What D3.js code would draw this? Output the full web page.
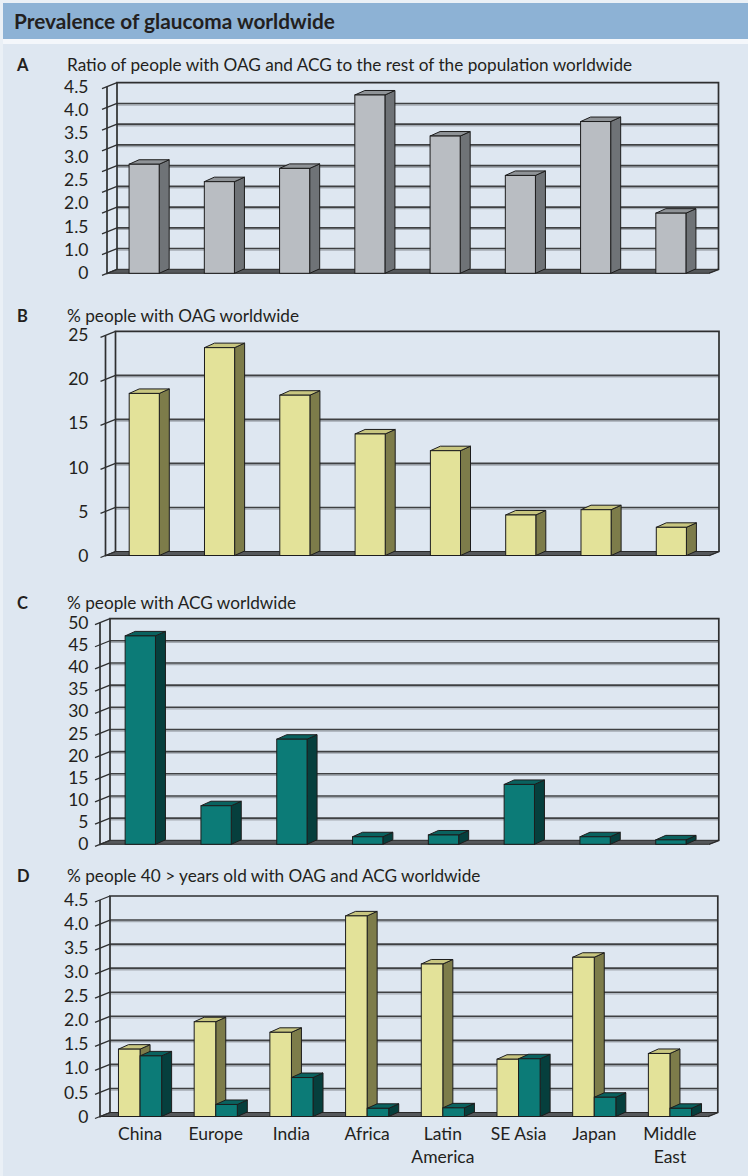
<!DOCTYPE html>
<html>
<head>
<meta charset="utf-8">
<script src="https://cdn.jsdelivr.net/npm/d3@7"></script>
<style>
  html, body { margin: 0; padding: 0; background: #eaf0f6; }
  svg { display: block; }
  text { font-family: Lato, "Noto Sans", sans-serif; fill: #231f20; }
</style>
</head>
<body>
<svg id="chart" width="748" height="1176"></svg>
<script>
// ---- data -------------------------------------------------------------
const regions = ["China", "Europe", "India", "Africa", "Latin America", "SE Asia", "Japan", "Middle East"];

// A: ratio of people with OAG and ACG to the rest of the population
const ratioOagAcg = [2.63, 2.21, 2.53, 4.30, 3.31, 2.36, 3.66, 1.45];
// B: % people with OAG worldwide
const pctOag = [18.4, 23.6, 18.2, 13.8, 11.9, 4.6, 5.2, 3.2];
// C: % people with ACG worldwide
const pctAcg = [47.0, 8.7, 23.7, 1.7, 2.1, 13.5, 1.7, 1.0];
// D: % people over 40 with OAG and with ACG
const over40Oag = [1.40, 1.97, 1.75, 4.17, 3.17, 1.19, 3.31, 1.31];
const over40Acg = [1.26, 0.25, 0.81, 0.17, 0.18, 1.20, 0.40, 0.17];

// axis ticks and labels
const ticksA = [0, 0.5, 1, 1.5, 2, 2.5, 3, 3.5, 4, 4.5];
const tickLabelsA = ["0", "1.0", "1.5", "2.0", "2.5", "3.0", "3.5", "4.0", "4.5"];
const ticksB = [0, 5, 10, 15, 20, 25];
const ticksC = [0, 5, 10, 15, 20, 25, 30, 35, 40, 45, 50];
const ticksD = [0, 0.5, 1, 1.5, 2, 2.5, 3, 3.5, 4, 4.5];

// ---- styling ------------------------------------------------------------
const palette = {
  grey:   { front: "#b9bdc2", side: "#6f7377", top: "#8f9397" },
  yellow: { front: "#e3e299", side: "#7d7c4a", top: "#c8c680" },
  teal:   { front: "#0c7b77", side: "#063f3d", top: "#0a625f" }
};
const depth = { dx: 10, dy: 4 };      // offset of the back wall
const barDepth = { dx: 10, dy: 4.5 }; // depth of each column
const labelFont = 17.5;

const fmtDec = v => v === 0 ? "0" : d3.format(".1f")(v);
const fmtInt = d3.format("d");

const svg = d3.select("#chart");

// page background, heading bar and panel
svg.append("rect").attr("x", 0).attr("y", 0).attr("width", 748).attr("height", 1176).attr("fill", "#eaf0f6");
svg.append("rect").attr("x", 3).attr("y", 3).attr("width", 745).attr("height", 36).attr("fill", "#8db2d5");
svg.append("rect").attr("x", 3).attr("y", 39).attr("width", 745).attr("height", 5).attr("fill", "#f4f7fb");
svg.append("rect").attr("x", 3).attr("y", 44).attr("width", 745).attr("height", 1132).attr("fill", "#dee7f1");
svg.append("text").attr("x", 14).attr("y", 28.5)
  .attr("font-size", 20.8).attr("font-weight", 700)
  .text("Prevalence of glaucoma worldwide");

const panels = [
  { letter: "A", title: "Ratio of people with OAG and ACG to the rest of the population worldwide",
    titleY: 71, series: [ratioOagAcg], colors: [palette.grey], ticks: ticksA, tickLabels: tickLabelsA,
    max: 4.5, yTop: 86.7, yFloor: 273.3, axisX: 107, band: [106.5, 708.5], pad: 0.6 },
  { letter: "B", title: "% people with OAG worldwide",
    titleY: 322, series: [pctOag], colors: [palette.yellow], ticks: ticksB, fmt: fmtInt,
    max: 25, yTop: 335.3, yFloor: 555.5, axisX: 105.5, band: [106.6, 709], pad: 0.6 },
  { letter: "C", title: "% people with ACG worldwide",
    titleY: 608.5, series: [pctAcg], colors: [palette.teal], ticks: ticksC, fmt: fmtInt,
    max: 50, yTop: 622.6, yFloor: 844.3, axisX: 100, band: [102.4, 708.8], pad: 0.6 },
  { letter: "D", title: "% people 40 > years old with OAG and ACG worldwide",
    titleY: 882, series: [over40Oag, over40Acg], colors: [palette.yellow, palette.teal], ticks: ticksD, fmt: fmtDec,
    max: 4.5, yTop: 900, yFloor: 1116.5, axisX: 100, band: [102.2, 707.8], pad: 0.43, categoryAxis: true }
];

function drawColumn(g, x, w, yTopFace, yBase, col) {
  const { dx, dy } = barDepth;
  // side face
  g.append("path")
    .attr("d", `M${x + w},${yTopFace} L${x + w + dx},${yTopFace - dy} L${x + w + dx},${yBase - dy} L${x + w},${yBase} Z`)
    .attr("fill", col.side).attr("stroke", "#1d1d1d").attr("stroke-width", 1).attr("stroke-linejoin", "round");
  // top face
  g.append("path")
    .attr("d", `M${x},${yTopFace} L${x + dx},${yTopFace - dy} L${x + w + dx},${yTopFace - dy} L${x + w},${yTopFace} Z`)
    .attr("fill", col.top).attr("stroke", "#1d1d1d").attr("stroke-width", 1).attr("stroke-linejoin", "round");
  // front face
  g.append("rect")
    .attr("x", x).attr("y", yTopFace).attr("width", w).attr("height", Math.max(0, yBase - yTopFace))
    .attr("fill", col.front).attr("stroke", "#1d1d1d").attr("stroke-width", 1);
}

panels.forEach(p => {
  const g = svg.append("g");
  const y = d3.scaleLinear().domain([0, p.max]).range([p.yFloor, p.yTop]);
  const x = d3.scaleBand().domain(regions).range(p.band).paddingInner(p.pad).paddingOuter(p.pad / 2);
  const backLeft = p.axisX + depth.dx;
  const backRight = p.band[1] + depth.dx;
  const yTopBack = p.yTop - depth.dy;
  const yFloorBack = p.yFloor - depth.dy;

  // headings
  g.append("text").attr("x", 17).attr("y", p.titleY).attr("font-size", 16.5).attr("font-weight", 700).text(p.letter);
  g.append("text").attr("x", 67).attr("y", p.titleY).attr("font-size", 17.2).text(p.title);

  // gridlines on the back wall
  const inner = p.ticks.filter(t => t > 0 && t < p.max);
  g.selectAll(null).data(inner).join("line")
    .attr("x1", backLeft).attr("x2", backRight)
    .attr("y1", d => y(d) - depth.dy + 1.6).attr("y2", d => y(d) - depth.dy + 1.6)
    .attr("stroke", "#a3aab2").attr("stroke-width", 1.3);
  g.selectAll(null).data(inner).join("line")
    .attr("x1", backLeft).attr("x2", backRight)
    .attr("y1", d => y(d) - depth.dy).attr("y2", d => y(d) - depth.dy)
    .attr("stroke", "#3e4042").attr("stroke-width", 1.6);

  // walls: back-left edge, top edge, right edge
  const wall = "#2e2f30";
  g.append("path")
    .attr("d", `M${backLeft},${yFloorBack} L${backLeft},${yTopBack} L${backRight},${yTopBack} L${backRight},${yFloorBack} L${p.band[1]},${p.yFloor}`)
    .attr("fill", "none").attr("stroke", wall).attr("stroke-width", 1.7);

  // floor
  g.append("path")
    .attr("d", `M${p.axisX},${p.yFloor} L${p.band[1]},${p.yFloor} L${backRight},${yFloorBack} L${backLeft},${yFloorBack} Z`)
    .attr("fill", "#55585b").attr("stroke", "#2a2a2a").attr("stroke-width", 1);

  // front value axis with slanted ticks onto the side wall
  g.append("line").attr("x1", p.axisX).attr("x2", p.axisX).attr("y1", p.yTop).attr("y2", p.yFloor + 1)
    .attr("stroke", wall).attr("stroke-width", 1.7);
  g.selectAll(null).data(p.ticks).join("line")
    .attr("x1", p.axisX - 5).attr("y1", d => y(d) + 2)
    .attr("x2", backLeft).attr("y2", d => y(d) - depth.dy)
    .attr("stroke", wall).attr("stroke-width", 1.3);

  // tick labels
  let labelAxis;
  if (p.tickLabels) {
    const yLab = d3.scalePoint().domain(p.tickLabels).range([p.yFloor, p.yTop]);
    labelAxis = d3.axisLeft(yLab).tickSize(0).tickPadding(0);
  } else {
    labelAxis = d3.axisLeft(y).tickValues(p.ticks).tickFormat(p.fmt).tickSize(0).tickPadding(0);
  }
  const ax = g.append("g").attr("transform", `translate(88.5,0)`).call(labelAxis);
  ax.select(".domain").remove();
  ax.selectAll("text").attr("font-size", labelFont).attr("font-family", "Lato, 'Noto Sans', sans-serif").attr("fill", "#231f20");

  // columns
  const sub = d3.scaleBand().domain(d3.range(p.series.length)).range([0, x.bandwidth()]);
  regions.forEach((r, i) => {
    p.series.forEach((s, k) => {
      drawColumn(g, x(r) + sub(k), sub.bandwidth(), y(s[i]), p.yFloor, p.colors[k]);
    });
  });

  // category axis under the last panel
  if (p.categoryAxis) {
    const cx = g.append("g").attr("transform", `translate(0,${p.yFloor})`)
      .call(d3.axisBottom(x).tickSize(0).tickPadding(11));
    cx.select(".domain").remove();
    cx.selectAll("text")
      .attr("font-size", labelFont).attr("font-family", "Lato, 'Noto Sans', sans-serif").attr("fill", "#231f20")
      .each(function (d) {
        const t = d3.select(this);
        if (this.getComputedTextLength() > 66 && d.includes(" ")) {
          const words = d.split(" ");
          t.text(null);
          words.forEach((w, j) => t.append("tspan").attr("x", 0).attr("dy", j === 0 ? "0.71em" : "1.32em").text(w));
          t.attr("dy", null);
        }
      });
  }
});
</script>
</body>
</html>
